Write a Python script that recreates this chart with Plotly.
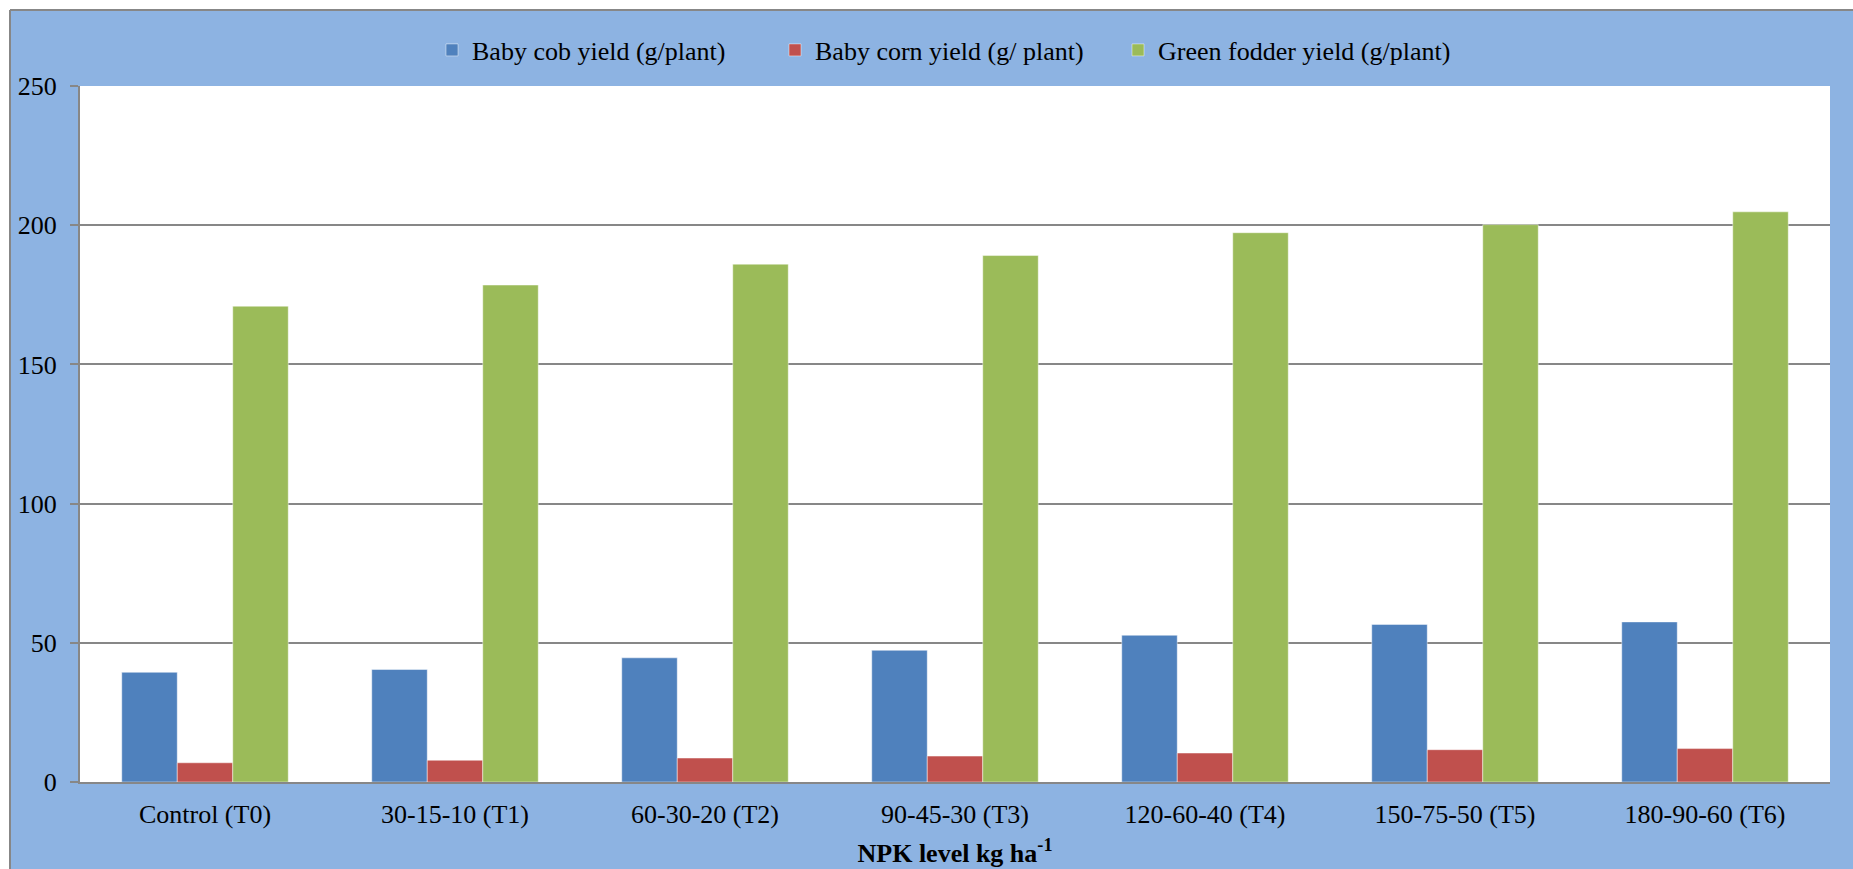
import plotly.graph_objects as go

categories = ["Control (T0)", "30-15-10 (T1)", "60-30-20 (T2)", "90-45-30 (T3)",
              "120-60-40 (T4)", "150-75-50 (T5)", "180-90-60 (T6)"]
baby_cob = [39.4, 40.4, 44.6, 47.3, 52.7, 56.6, 57.5]
baby_corn = [6.9, 7.8, 8.6, 9.3, 10.4, 11.6, 12.0]
green_fodder = [170.9, 178.5, 186.0, 189.1, 197.3, 200.2, 204.8]
series_names = ["Baby cob yield (g/plant)", "Baby corn yield (g/ plant)", "Green fodder yield (g/plant)"]
colors = ["#4F81BD", "#C0504D", "#9BBB59"]

W, H = 1853, 869
L, R, T, B = 80, 1830, 86, 782  # plot area in px

def px(x):
    return (x - L) / (R - L)

def py(y):
    return (B - y) / (B - T)

FONT = "Liberation Serif"
BG = "#8DB3E2"
GRID = "#878787"

fig = go.Figure()
for name, vals, col in zip(series_names, [baby_cob, baby_corn, green_fodder], colors):
    fig.add_trace(go.Bar(
        x=categories, y=vals, name=name,
        marker=dict(color=col, line=dict(color="rgba(255,255,255,0.45)", width=1)),
    ))

fig.update_layout(
    width=W, height=H,
    margin=dict(l=L, r=W - R, t=T, b=H - B, pad=0),
    paper_bgcolor=BG,
    plot_bgcolor="white",
    barmode="group",
    bargap=0.334,
    bargroupgap=0,
    font=dict(family=FONT, size=26, color="black"),
    legend=dict(
        orientation="h",
        x=px(432), xanchor="left",
        y=py(50), yanchor="middle",
        bgcolor="rgba(0,0,0,0)",
        font=dict(family=FONT, size=26, color="black"),
        entrywidth=298, entrywidthmode="pixels",
        traceorder="normal",
    ),
    xaxis=dict(
        automargin=False,
        showline=True, linecolor=GRID, linewidth=2,
        ticks="", showgrid=False,
        tickfont=dict(family=FONT, size=26, color="black"),
        ticklabelstandoff=8,
        title=dict(text="<b>NPK level kg ha<sup>-1</sup></b>",
                   font=dict(family=FONT, size=26, color="black"), standoff=16),
    ),
    yaxis=dict(
        automargin=False,
        range=[0, 250], dtick=50, tick0=0,
        showline=True, linecolor=GRID, linewidth=2,
        ticks="outside", ticklen=8, tickcolor=GRID, tickwidth=2,
        showgrid=True, gridcolor=GRID, gridwidth=1.5,
        zeroline=False,
        tickfont=dict(family=FONT, size=26, color="black"),
        ticklabelstandoff=8,
    ),
    shapes=[
        # white strips outside the blue chart frame (top and left)
        dict(type="rect", xref="paper", yref="paper", layer="below",
             x0=px(-5), x1=px(W + 5), y0=py(-5), y1=py(10),
             fillcolor="white", line=dict(width=0)),
        dict(type="rect", xref="paper", yref="paper", layer="below",
             x0=px(-5), x1=px(10), y0=py(-5), y1=py(H + 5),
             fillcolor="white", line=dict(width=0)),
        # gray frame lines
        dict(type="line", xref="paper", yref="paper", layer="below",
             x0=px(10), x1=px(W + 5), y0=py(10), y1=py(10),
             line=dict(color=GRID, width=2)),
        dict(type="line", xref="paper", yref="paper", layer="below",
             x0=px(10), x1=px(10), y0=py(10), y1=py(H + 5),
             line=dict(color=GRID, width=2)),
    ],
)

fig.write_html("out.html")
